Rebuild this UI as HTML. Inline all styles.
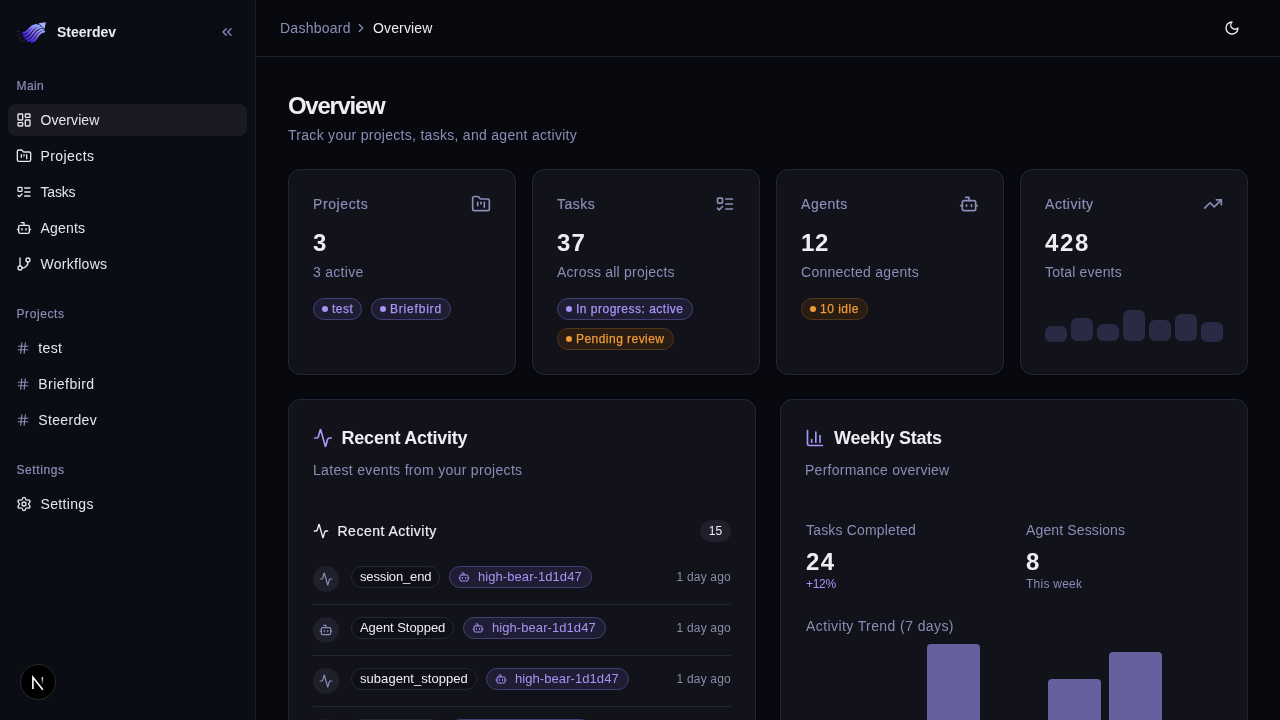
<!DOCTYPE html>
<html><head><meta charset="utf-8"><style>
html,body{margin:0;padding:0;width:1280px;height:720px;overflow:hidden;background:#08090e;font-family:"Liberation Sans",sans-serif;}
.t{position:absolute;white-space:nowrap;}
#root{position:absolute;left:0;top:0;width:1280px;height:720px;will-change:transform;}
</style></head><body><div id="root">
<div style="position:absolute;left:0px;top:0px;width:256px;height:720px;box-sizing:border-box;background:#0b0d15;border-right:1px solid #1d1e2d"></div>
<svg style="position:absolute;left:14px;top:18px" width="36" height="28" viewBox="0 0 36 28">
<defs><linearGradient id="lg" x1="0" y1="1" x2="0.8" y2="0"><stop offset="0" stop-color="#4324e6"/><stop offset="0.55" stop-color="#8566f6"/><stop offset="1" stop-color="#8ea4ff"/></linearGradient></defs>
<g fill="none" stroke="url(#lg)" stroke-width="2.1" stroke-linecap="round"><path d="M8.9 15.2 C15.07 15.70 14.38 7.30 22.6 7.0"/><path d="M10.1 17.9 C16.94 18.40 16.18 7.90 25.3 7.6"/><path d="M11.7 20.6 C18.86 21.10 18.06 9.60 27.6 9.3"/><path d="M14.2 22.6 C20.95 23.10 20.20 11.80 29.2 11.5"/><path d="M17.5 23.6 C23.21 24.10 22.58 13.80 30.2 13.5"/></g>
<path d="M24.5 5.2 L31.8 4.3 L30.6 10.8 Z" fill="#a9b0ff"/>
<g stroke="#5a5890" stroke-width="0.7" opacity="0.45"><path d="M3 13.5h3"/><path d="M2.5 17h4"/><path d="M4 20h4"/><path d="M7 23h4"/></g>
</svg>
<div class="t" style="left:57px;top:23.15px;font-size:14px;line-height:18px;color:#ededf2;font-weight:700;letter-spacing:0px;">Steerdev</div>
<svg style="position:absolute;left:219px;top:24px;" width="16" height="16" viewBox="0 0 24 24" fill="none" stroke="#8b8db6" stroke-width="2" stroke-linecap="round" stroke-linejoin="round"><path d="m11 17-5-5 5-5"/><path d="m18 17-5-5 5-5"/></svg>
<div class="t" style="left:16.5px;top:77.84px;font-size:12px;line-height:16px;color:#8b8db6;font-weight:400;letter-spacing:0.4px;-webkit-text-stroke:0.2px currentColor">Main</div>
<div style="position:absolute;left:8px;top:104px;width:239px;height:32px;box-sizing:border-box;background:#1a1a24;border-radius:8px"></div>
<svg style="position:absolute;left:16px;top:112px;" width="16" height="16" viewBox="0 0 24 24" fill="none" stroke="#e6e6ec" stroke-width="2" stroke-linecap="round" stroke-linejoin="round"><rect width="7" height="9" x="3" y="3" rx="1"/><rect width="7" height="5" x="14" y="3" rx="1"/><rect width="7" height="9" x="14" y="12" rx="1"/><rect width="7" height="5" x="3" y="16" rx="1"/></svg>
<div class="t" style="left:40.5px;top:111.15px;font-size:14px;line-height:18px;color:#e6e6ec;font-weight:400;letter-spacing:0.06px;">Overview</div>
<svg style="position:absolute;left:16px;top:148px;" width="16" height="16" viewBox="0 0 24 24" fill="none" stroke="#e6e6ec" stroke-width="2" stroke-linecap="round" stroke-linejoin="round"><path d="M4 20h16a2 2 0 0 0 2-2V8a2 2 0 0 0-2-2h-7.93a2 2 0 0 1-1.66-.9l-.82-1.2A2 2 0 0 0 7.93 3H4a2 2 0 0 0-2 2v13c0 1.1.9 2 2 2Z"/><path d="M8 10v4"/><path d="M12 10v2"/><path d="M16 10v6"/></svg>
<div class="t" style="left:40.5px;top:147.15px;font-size:14px;line-height:18px;color:#e6e6ec;font-weight:400;letter-spacing:0.43px;">Projects</div>
<svg style="position:absolute;left:16px;top:184px;" width="16" height="16" viewBox="0 0 24 24" fill="none" stroke="#e6e6ec" stroke-width="2" stroke-linecap="round" stroke-linejoin="round"><rect x="3" y="5" width="6" height="6" rx="1"/><path d="m3 17 2 2 4-4"/><path d="M13 6h8"/><path d="M13 12h8"/><path d="M13 18h8"/></svg>
<div class="t" style="left:40.5px;top:183.15px;font-size:14px;line-height:18px;color:#e6e6ec;font-weight:400;letter-spacing:-0.2px;">Tasks</div>
<svg style="position:absolute;left:16px;top:220px;" width="16" height="16" viewBox="0 0 24 24" fill="none" stroke="#e6e6ec" stroke-width="2" stroke-linecap="round" stroke-linejoin="round"><path d="M12 8V4H8"/><rect width="16" height="12" x="4" y="8" rx="2"/><path d="M2 14h2"/><path d="M20 14h2"/><path d="M15 13v2"/><path d="M9 13v2"/></svg>
<div class="t" style="left:40.5px;top:219.15px;font-size:14px;line-height:18px;color:#e6e6ec;font-weight:400;letter-spacing:0.2px;">Agents</div>
<svg style="position:absolute;left:16px;top:256px;" width="16" height="16" viewBox="0 0 24 24" fill="none" stroke="#e6e6ec" stroke-width="2" stroke-linecap="round" stroke-linejoin="round"><line x1="6" x2="6" y1="3" y2="15"/><circle cx="18" cy="6" r="3"/><circle cx="6" cy="18" r="3"/><path d="M18 9a9 9 0 0 1-9 9"/></svg>
<div class="t" style="left:40.5px;top:255.15px;font-size:14px;line-height:18px;color:#e6e6ec;font-weight:400;letter-spacing:0.28px;">Workflows</div>
<div class="t" style="left:16.5px;top:305.84px;font-size:12px;line-height:16px;color:#8b8db6;font-weight:400;letter-spacing:0.6px;-webkit-text-stroke:0.2px currentColor">Projects</div>
<svg style="position:absolute;left:16px;top:341px;" width="14" height="14" viewBox="0 0 24 24" fill="none" stroke="#8b8db6" stroke-width="2" stroke-linecap="round" stroke-linejoin="round"><line x1="4" x2="20" y1="9" y2="9"/><line x1="4" x2="20" y1="15" y2="15"/><line x1="10" x2="8" y1="3" y2="21"/><line x1="16" x2="14" y1="3" y2="21"/></svg>
<div class="t" style="left:38.3px;top:339.15px;font-size:14px;line-height:18px;color:#e6e6ec;font-weight:400;letter-spacing:0.33px;">test</div>
<svg style="position:absolute;left:16px;top:377px;" width="14" height="14" viewBox="0 0 24 24" fill="none" stroke="#8b8db6" stroke-width="2" stroke-linecap="round" stroke-linejoin="round"><line x1="4" x2="20" y1="9" y2="9"/><line x1="4" x2="20" y1="15" y2="15"/><line x1="10" x2="8" y1="3" y2="21"/><line x1="16" x2="14" y1="3" y2="21"/></svg>
<div class="t" style="left:38.3px;top:375.15px;font-size:14px;line-height:18px;color:#e6e6ec;font-weight:400;letter-spacing:0.46px;">Briefbird</div>
<svg style="position:absolute;left:16px;top:413px;" width="14" height="14" viewBox="0 0 24 24" fill="none" stroke="#8b8db6" stroke-width="2" stroke-linecap="round" stroke-linejoin="round"><line x1="4" x2="20" y1="9" y2="9"/><line x1="4" x2="20" y1="15" y2="15"/><line x1="10" x2="8" y1="3" y2="21"/><line x1="16" x2="14" y1="3" y2="21"/></svg>
<div class="t" style="left:38.3px;top:411.15px;font-size:14px;line-height:18px;color:#e6e6ec;font-weight:400;letter-spacing:0.34px;">Steerdev</div>
<div class="t" style="left:16.5px;top:461.64px;font-size:12px;line-height:16px;color:#8b8db6;font-weight:400;letter-spacing:0.58px;-webkit-text-stroke:0.2px currentColor">Settings</div>
<svg style="position:absolute;left:16px;top:496px;" width="16" height="16" viewBox="0 0 24 24" fill="none" stroke="#e6e6ec" stroke-width="2" stroke-linecap="round" stroke-linejoin="round"><path d="M9.671 4.136a2.34 2.34 0 0 1 4.659 0 2.34 2.34 0 0 0 3.319 1.915 2.34 2.34 0 0 1 2.33 4.033 2.34 2.34 0 0 0 0 3.831 2.34 2.34 0 0 1-2.33 4.033 2.34 2.34 0 0 0-3.319 1.915 2.34 2.34 0 0 1-4.659 0 2.34 2.34 0 0 0-3.32-1.915 2.34 2.34 0 0 1-2.33-4.033 2.34 2.34 0 0 0 0-3.831A2.34 2.34 0 0 1 6.35 6.051a2.34 2.34 0 0 0 3.319-1.915"/><circle cx="12" cy="12" r="3"/></svg>
<div class="t" style="left:40.6px;top:495.25px;font-size:14px;line-height:18px;color:#e6e6ec;font-weight:400;letter-spacing:0.32px;">Settings</div>
<div style="position:absolute;left:20px;top:664px;width:36px;height:36px;box-sizing:border-box;background:#000;border:1px solid #2a2a2e;border-radius:50%"></div>
<svg style="position:absolute;left:29px;top:673px" width="18" height="18" viewBox="0 0 18 18"><defs><linearGradient id="ng" gradientUnits="userSpaceOnUse" x1="0" y1="4" x2="0" y2="12"><stop offset="0" stop-color="#fff"/><stop offset="1" stop-color="#fff" stop-opacity="0"/></linearGradient></defs><path d="M3.9 16V4.2l10 12.6" stroke="#fff" stroke-width="1.6" fill="none" stroke-linejoin="miter"/><path d="M13.4 4.2v8" stroke="url(#ng)" stroke-width="1.5"/></svg>
<div style="position:absolute;left:256px;top:56px;width:1024px;height:1px;box-sizing:border-box;background:#1d1e2d"></div>
<div class="t" style="left:280px;top:19.15px;font-size:14px;line-height:18px;color:#8b8db6;font-weight:400;letter-spacing:0.25px;">Dashboard</div>
<svg style="position:absolute;left:354px;top:21px;" width="14" height="14" viewBox="0 0 24 24" fill="none" stroke="#8b8db6" stroke-width="2" stroke-linecap="round" stroke-linejoin="round"><path d="m9 18 6-6-6-6"/></svg>
<div class="t" style="left:373px;top:19.15px;font-size:14px;line-height:18px;color:#ededf2;font-weight:400;letter-spacing:0.14px;">Overview</div>
<svg style="position:absolute;left:1224px;top:20px;" width="16" height="16" viewBox="0 0 24 24" fill="none" stroke="#ededf2" stroke-width="2" stroke-linecap="round" stroke-linejoin="round"><path d="M12 3a6 6 0 0 0 9 9 9 9 0 1 1-9-9Z"/></svg>
<div class="t" style="left:288px;top:90.18px;font-size:24px;line-height:31px;color:#ededf2;font-weight:700;letter-spacing:-1.3px;">Overview</div>
<div class="t" style="left:288px;top:126.15px;font-size:14px;line-height:18px;color:#8b8db6;font-weight:400;letter-spacing:0.29px;">Track your projects, tasks, and agent activity</div>
<div style="position:absolute;left:288px;top:169px;width:228px;height:206px;box-sizing:border-box;background:#11121a;border:1px solid #23243a;border-radius:12px;box-shadow:0 1px 3px rgba(0,0,0,.35)"></div>
<div class="t" style="left:313px;top:195.05px;font-size:14px;line-height:18px;color:#8b8db6;font-weight:400;letter-spacing:0.6px;-webkit-text-stroke:0.2px currentColor">Projects</div>
<svg style="position:absolute;left:471px;top:194px;" width="20" height="20" viewBox="0 0 24 24" fill="none" stroke="#8b8db6" stroke-width="2" stroke-linecap="round" stroke-linejoin="round"><path d="M4 20h16a2 2 0 0 0 2-2V8a2 2 0 0 0-2-2h-7.93a2 2 0 0 1-1.66-.9l-.82-1.2A2 2 0 0 0 7.93 3H4a2 2 0 0 0-2 2v13c0 1.1.9 2 2 2Z"/><path d="M8 10v4"/><path d="M12 10v2"/><path d="M16 10v6"/></svg>
<div class="t" style="left:313px;top:227.18px;font-size:24px;line-height:31px;color:#ededf2;font-weight:700;letter-spacing:1.0px;">3</div>
<div class="t" style="left:313px;top:263.15px;font-size:14px;line-height:18px;color:#8b8db6;font-weight:400;letter-spacing:0.29px;">3 active</div>
<div style="position:absolute;left:532px;top:169px;width:228px;height:206px;box-sizing:border-box;background:#11121a;border:1px solid #23243a;border-radius:12px;box-shadow:0 1px 3px rgba(0,0,0,.35)"></div>
<div class="t" style="left:557px;top:195.05px;font-size:14px;line-height:18px;color:#8b8db6;font-weight:400;letter-spacing:0.5px;-webkit-text-stroke:0.2px currentColor">Tasks</div>
<svg style="position:absolute;left:715px;top:194px;" width="20" height="20" viewBox="0 0 24 24" fill="none" stroke="#8b8db6" stroke-width="2" stroke-linecap="round" stroke-linejoin="round"><rect x="3" y="5" width="6" height="6" rx="1"/><path d="m3 17 2 2 4-4"/><path d="M13 6h8"/><path d="M13 12h8"/><path d="M13 18h8"/></svg>
<div class="t" style="left:557px;top:227.18px;font-size:24px;line-height:31px;color:#ededf2;font-weight:700;letter-spacing:1.2px;">37</div>
<div class="t" style="left:557px;top:263.15px;font-size:14px;line-height:18px;color:#8b8db6;font-weight:400;letter-spacing:0.22px;">Across all projects</div>
<div style="position:absolute;left:776px;top:169px;width:228px;height:206px;box-sizing:border-box;background:#11121a;border:1px solid #23243a;border-radius:12px;box-shadow:0 1px 3px rgba(0,0,0,.35)"></div>
<div class="t" style="left:801px;top:195.05px;font-size:14px;line-height:18px;color:#8b8db6;font-weight:400;letter-spacing:0.54px;-webkit-text-stroke:0.2px currentColor">Agents</div>
<svg style="position:absolute;left:959px;top:194px;" width="20" height="20" viewBox="0 0 24 24" fill="none" stroke="#8b8db6" stroke-width="2" stroke-linecap="round" stroke-linejoin="round"><path d="M12 8V4H8"/><rect width="16" height="12" x="4" y="8" rx="2"/><path d="M2 14h2"/><path d="M20 14h2"/><path d="M15 13v2"/><path d="M9 13v2"/></svg>
<div class="t" style="left:801px;top:227.18px;font-size:24px;line-height:31px;color:#ededf2;font-weight:700;letter-spacing:0.6px;">12</div>
<div class="t" style="left:801px;top:263.15px;font-size:14px;line-height:18px;color:#8b8db6;font-weight:400;letter-spacing:0.27px;">Connected agents</div>
<div style="position:absolute;left:1020px;top:169px;width:228px;height:206px;box-sizing:border-box;background:#11121a;border:1px solid #23243a;border-radius:12px;box-shadow:0 1px 3px rgba(0,0,0,.35)"></div>
<div class="t" style="left:1045px;top:195.05px;font-size:14px;line-height:18px;color:#8b8db6;font-weight:400;letter-spacing:0.54px;-webkit-text-stroke:0.2px currentColor">Activity</div>
<svg style="position:absolute;left:1203px;top:194px;" width="20" height="20" viewBox="0 0 24 24" fill="none" stroke="#8b8db6" stroke-width="2" stroke-linecap="round" stroke-linejoin="round"><polyline points="22 7 13.5 15.5 8.5 10.5 2 17"/><polyline points="16 7 22 7 22 13"/></svg>
<div class="t" style="left:1045px;top:227.18px;font-size:24px;line-height:31px;color:#ededf2;font-weight:700;letter-spacing:1.6px;">428</div>
<div class="t" style="left:1045px;top:263.15px;font-size:14px;line-height:18px;color:#8b8db6;font-weight:400;letter-spacing:0.18px;">Total events</div>
<div style="position:absolute;left:313px;top:298px;height:22px;box-sizing:border-box;border:1px solid #433f72;background:#1f1d33;border-radius:11px;padding:0 8px;display:flex;align-items:center;white-space:nowrap;font-size:12px;line-height:20px;color:#a495f4;letter-spacing:0.53px;-webkit-text-stroke:0.25px #a495f4"><span style="width:6px;height:6px;border-radius:50%;background:#a495f4;margin-right:4px;flex:none"></span>test</div>
<div style="position:absolute;left:371px;top:298px;height:22px;box-sizing:border-box;border:1px solid #433f72;background:#1f1d33;border-radius:11px;padding:0 8px;display:flex;align-items:center;white-space:nowrap;font-size:12px;line-height:20px;color:#a495f4;letter-spacing:0.8px;-webkit-text-stroke:0.25px #a495f4"><span style="width:6px;height:6px;border-radius:50%;background:#a495f4;margin-right:4px;flex:none"></span>Briefbird</div>
<div style="position:absolute;left:557px;top:298px;height:22px;box-sizing:border-box;border:1px solid #433f72;background:#1f1d33;border-radius:11px;padding:0 8px;display:flex;align-items:center;white-space:nowrap;font-size:12px;line-height:20px;color:#a495f4;letter-spacing:0.5px;-webkit-text-stroke:0.25px #a495f4"><span style="width:6px;height:6px;border-radius:50%;background:#a495f4;margin-right:4px;flex:none"></span>In progress: active</div>
<div style="position:absolute;left:557px;top:328px;height:22px;box-sizing:border-box;border:1px solid #51361a;background:#281c13;border-radius:11px;padding:0 8px;display:flex;align-items:center;white-space:nowrap;font-size:12px;line-height:20px;color:#f09b38;letter-spacing:0.46px;-webkit-text-stroke:0.25px #f09b38"><span style="width:6px;height:6px;border-radius:50%;background:#f09b38;margin-right:4px;flex:none"></span>Pending review</div>
<div style="position:absolute;left:801px;top:298px;height:22px;box-sizing:border-box;border:1px solid #51361a;background:#281c13;border-radius:11px;padding:0 8px;display:flex;align-items:center;white-space:nowrap;font-size:12px;line-height:20px;color:#f09b38;letter-spacing:0.5px;-webkit-text-stroke:0.25px #f09b38"><span style="width:6px;height:6px;border-radius:50%;background:#f09b38;margin-right:4px;flex:none"></span>10 idle</div>
<div style="position:absolute;left:1045px;top:326.0px;width:22px;height:15.5px;box-sizing:border-box;background:#2b2a45;border-radius:6px"></div>
<div style="position:absolute;left:1071px;top:317.7px;width:22px;height:23.80000000000001px;box-sizing:border-box;background:#2b2a45;border-radius:6px"></div>
<div style="position:absolute;left:1097px;top:323.8px;width:22px;height:17.69999999999999px;box-sizing:border-box;background:#2b2a45;border-radius:6px"></div>
<div style="position:absolute;left:1123px;top:309.7px;width:22px;height:31.80000000000001px;box-sizing:border-box;background:#2b2a45;border-radius:6px"></div>
<div style="position:absolute;left:1149px;top:319.6px;width:22px;height:21.899999999999977px;box-sizing:border-box;background:#2b2a45;border-radius:6px"></div>
<div style="position:absolute;left:1175px;top:313.7px;width:22px;height:27.80000000000001px;box-sizing:border-box;background:#2b2a45;border-radius:6px"></div>
<div style="position:absolute;left:1201px;top:322.0px;width:22px;height:19.5px;box-sizing:border-box;background:#2b2a45;border-radius:6px"></div>
<div style="position:absolute;left:288px;top:399px;width:468px;height:400px;box-sizing:border-box;background:#11121a;border:1px solid #23243a;border-radius:12px;box-shadow:0 1px 3px rgba(0,0,0,.35)"></div>
<div style="position:absolute;left:780px;top:399px;width:468px;height:400px;box-sizing:border-box;background:#11121a;border:1px solid #23243a;border-radius:12px;box-shadow:0 1px 3px rgba(0,0,0,.35)"></div>
<svg style="position:absolute;left:313px;top:428px;" width="20" height="20" viewBox="0 0 24 24" fill="none" stroke="#a396f6" stroke-width="2" stroke-linecap="round" stroke-linejoin="round"><path d="M22 12h-2.48a2 2 0 0 0-1.93 1.46l-2.35 8.36a.25.25 0 0 1-.48 0L9.24 2.18a.25.25 0 0 0-.48 0l-2.35 8.36A2 2 0 0 1 4.49 12H2"/></svg>
<div class="t" style="left:341.6px;top:427.06px;font-size:18px;line-height:23px;color:#ededf2;font-weight:700;letter-spacing:-0.24px;">Recent Activity</div>
<div class="t" style="left:313px;top:461.15px;font-size:14px;line-height:18px;color:#8b8db6;font-weight:400;letter-spacing:0.32px;">Latest events from your projects</div>
<svg style="position:absolute;left:313px;top:523px;" width="16" height="16" viewBox="0 0 24 24" fill="none" stroke="#ededf2" stroke-width="2" stroke-linecap="round" stroke-linejoin="round"><path d="M22 12h-2.48a2 2 0 0 0-1.93 1.46l-2.35 8.36a.25.25 0 0 1-.48 0L9.24 2.18a.25.25 0 0 0-.48 0l-2.35 8.36A2 2 0 0 1 4.49 12H2"/></svg>
<div class="t" style="left:337.5px;top:522.15px;font-size:14px;line-height:18px;color:#ededf2;font-weight:400;letter-spacing:0.5px;-webkit-text-stroke:0.2px currentColor">Recent Activity</div>
<div style="position:absolute;left:700px;top:520px;width:31px;height:22px;border-radius:11px;background:#1f202c;color:#ededf2;font-size:12px;line-height:22px;text-align:center">15</div>
<div style="position:absolute;left:313px;top:566px;width:26px;height:26px;box-sizing:border-box;background:#1f202c;border-radius:50%"></div>
<svg style="position:absolute;left:319px;top:572px;" width="14" height="14" viewBox="0 0 24 24" fill="none" stroke="#8b8db6" stroke-width="2" stroke-linecap="round" stroke-linejoin="round"><path d="M22 12h-2.48a2 2 0 0 0-1.93 1.46l-2.35 8.36a.25.25 0 0 1-.48 0L9.24 2.18a.25.25 0 0 0-.48 0l-2.35 8.36A2 2 0 0 1 4.49 12H2"/></svg>
<div style="position:absolute;left:351px;top:566px;height:22px;box-sizing:border-box;border:1px solid #25263a;background:#0f1017;border-radius:11px;padding:0 8px;white-space:nowrap;font-size:13px;line-height:20px;color:#ededf2;letter-spacing:-0.15px">session_end</div>
<div style="position:absolute;left:449px;top:566px;height:22px;box-sizing:border-box;border:1px solid #433f72;background:#1f1d33;border-radius:11px;padding:0 9px 0 8px;white-space:nowrap;font-size:13px;line-height:20px;color:#a495f4;letter-spacing:0.07px;display:flex;align-items:center"><svg width="12" height="12" viewBox="0 0 24 24" fill="none" stroke="#a495f4" stroke-width="2" stroke-linecap="round" stroke-linejoin="round" style="margin-right:8px;flex:none"><path d="M12 8V4H8"/><rect width="16" height="12" x="4" y="8" rx="2"/><path d="M2 14h2"/><path d="M20 14h2"/><path d="M15 13v2"/><path d="M9 13v2"/></svg>high-bear-1d1d47</div>
<div class="t" style="right:549px;top:569.34px;font-size:12px;line-height:16px;color:#8a8ba6;font-weight:400;letter-spacing:0.2px;">1 day ago</div>
<div style="position:absolute;left:313px;top:604px;width:418px;height:1px;box-sizing:border-box;background:#25263a"></div>
<div style="position:absolute;left:313px;top:617px;width:26px;height:26px;box-sizing:border-box;background:#1f202c;border-radius:50%"></div>
<svg style="position:absolute;left:319px;top:623px;" width="14" height="14" viewBox="0 0 24 24" fill="none" stroke="#8b8db6" stroke-width="2" stroke-linecap="round" stroke-linejoin="round"><path d="M12 8V4H8"/><rect width="16" height="12" x="4" y="8" rx="2"/><path d="M2 14h2"/><path d="M20 14h2"/><path d="M15 13v2"/><path d="M9 13v2"/></svg>
<div style="position:absolute;left:351px;top:617px;height:22px;box-sizing:border-box;border:1px solid #25263a;background:#0f1017;border-radius:11px;padding:0 8px;white-space:nowrap;font-size:13px;line-height:20px;color:#ededf2;letter-spacing:-0.06px">Agent Stopped</div>
<div style="position:absolute;left:463px;top:617px;height:22px;box-sizing:border-box;border:1px solid #433f72;background:#1f1d33;border-radius:11px;padding:0 9px 0 8px;white-space:nowrap;font-size:13px;line-height:20px;color:#a495f4;letter-spacing:0.07px;display:flex;align-items:center"><svg width="12" height="12" viewBox="0 0 24 24" fill="none" stroke="#a495f4" stroke-width="2" stroke-linecap="round" stroke-linejoin="round" style="margin-right:8px;flex:none"><path d="M12 8V4H8"/><rect width="16" height="12" x="4" y="8" rx="2"/><path d="M2 14h2"/><path d="M20 14h2"/><path d="M15 13v2"/><path d="M9 13v2"/></svg>high-bear-1d1d47</div>
<div class="t" style="right:549px;top:620.34px;font-size:12px;line-height:16px;color:#8a8ba6;font-weight:400;letter-spacing:0.2px;">1 day ago</div>
<div style="position:absolute;left:313px;top:655px;width:418px;height:1px;box-sizing:border-box;background:#25263a"></div>
<div style="position:absolute;left:313px;top:668px;width:26px;height:26px;box-sizing:border-box;background:#1f202c;border-radius:50%"></div>
<svg style="position:absolute;left:319px;top:674px;" width="14" height="14" viewBox="0 0 24 24" fill="none" stroke="#8b8db6" stroke-width="2" stroke-linecap="round" stroke-linejoin="round"><path d="M22 12h-2.48a2 2 0 0 0-1.93 1.46l-2.35 8.36a.25.25 0 0 1-.48 0L9.24 2.18a.25.25 0 0 0-.48 0l-2.35 8.36A2 2 0 0 1 4.49 12H2"/></svg>
<div style="position:absolute;left:351px;top:668px;height:22px;box-sizing:border-box;border:1px solid #25263a;background:#0f1017;border-radius:11px;padding:0 8px;white-space:nowrap;font-size:13px;line-height:20px;color:#ededf2;letter-spacing:0.05px">subagent_stopped</div>
<div style="position:absolute;left:486px;top:668px;height:22px;box-sizing:border-box;border:1px solid #433f72;background:#1f1d33;border-radius:11px;padding:0 9px 0 8px;white-space:nowrap;font-size:13px;line-height:20px;color:#a495f4;letter-spacing:0.07px;display:flex;align-items:center"><svg width="12" height="12" viewBox="0 0 24 24" fill="none" stroke="#a495f4" stroke-width="2" stroke-linecap="round" stroke-linejoin="round" style="margin-right:8px;flex:none"><path d="M12 8V4H8"/><rect width="16" height="12" x="4" y="8" rx="2"/><path d="M2 14h2"/><path d="M20 14h2"/><path d="M15 13v2"/><path d="M9 13v2"/></svg>high-bear-1d1d47</div>
<div class="t" style="right:549px;top:671.34px;font-size:12px;line-height:16px;color:#8a8ba6;font-weight:400;letter-spacing:0.2px;">1 day ago</div>
<div style="position:absolute;left:313px;top:706px;width:418px;height:1px;box-sizing:border-box;background:#25263a"></div>
<div style="position:absolute;left:313px;top:719px;width:26px;height:26px;box-sizing:border-box;background:#1f202c;border-radius:50%"></div>
<svg style="position:absolute;left:319px;top:725px;" width="14" height="14" viewBox="0 0 24 24" fill="none" stroke="#8b8db6" stroke-width="2" stroke-linecap="round" stroke-linejoin="round"><path d="M22 12h-2.48a2 2 0 0 0-1.93 1.46l-2.35 8.36a.25.25 0 0 1-.48 0L9.24 2.18a.25.25 0 0 0-.48 0l-2.35 8.36A2 2 0 0 1 4.49 12H2"/></svg>
<div style="position:absolute;left:351px;top:719px;height:22px;box-sizing:border-box;border:1px solid #25263a;background:#0f1017;border-radius:11px;padding:0 8px;white-space:nowrap;font-size:13px;line-height:20px;color:#ededf2;letter-spacing:-0.15px">session_end</div>
<div style="position:absolute;left:449px;top:719px;height:22px;box-sizing:border-box;border:1px solid #433f72;background:#1f1d33;border-radius:11px;padding:0 9px 0 8px;white-space:nowrap;font-size:13px;line-height:20px;color:#a495f4;letter-spacing:0.07px;display:flex;align-items:center"><svg width="12" height="12" viewBox="0 0 24 24" fill="none" stroke="#a495f4" stroke-width="2" stroke-linecap="round" stroke-linejoin="round" style="margin-right:8px;flex:none"><path d="M12 8V4H8"/><rect width="16" height="12" x="4" y="8" rx="2"/><path d="M2 14h2"/><path d="M20 14h2"/><path d="M15 13v2"/><path d="M9 13v2"/></svg>high-bear-1d1d47</div>
<div class="t" style="right:549px;top:722.34px;font-size:12px;line-height:16px;color:#8a8ba6;font-weight:400;letter-spacing:0.2px;">1 day ago</div>
<svg style="position:absolute;left:805px;top:428px;" width="20" height="20" viewBox="0 0 24 24" fill="none" stroke="#a396f6" stroke-width="2" stroke-linecap="round" stroke-linejoin="round"><path d="M3 3v16a2 2 0 0 0 2 2h16"/><path d="M18 17V9"/><path d="M13 17V5"/><path d="M8 17v-3"/></svg>
<div class="t" style="left:834px;top:427.06px;font-size:18px;line-height:23px;color:#ededf2;font-weight:700;letter-spacing:-0.24px;">Weekly Stats</div>
<div class="t" style="left:805px;top:461.15px;font-size:14px;line-height:18px;color:#8b8db6;font-weight:400;letter-spacing:0.26px;">Performance overview</div>
<div class="t" style="left:806px;top:520.75px;font-size:14px;line-height:18px;color:#8b8db6;font-weight:400;letter-spacing:0.17px;">Tasks Completed</div>
<div class="t" style="left:1026px;top:520.75px;font-size:14px;line-height:18px;color:#8b8db6;font-weight:400;letter-spacing:0.13px;">Agent Sessions</div>
<div class="t" style="left:806px;top:545.58px;font-size:24px;line-height:31px;color:#ededf2;font-weight:700;letter-spacing:1.5px;">24</div>
<div class="t" style="left:1026px;top:545.58px;font-size:24px;line-height:31px;color:#ededf2;font-weight:700;letter-spacing:0px;">8</div>
<div class="t" style="left:806px;top:575.84px;font-size:12px;line-height:16px;color:#a396f6;font-weight:400;letter-spacing:-0.3px;">+12%</div>
<div class="t" style="left:1026px;top:575.84px;font-size:12px;line-height:16px;color:#8b8db6;font-weight:400;letter-spacing:0.25px;">This week</div>
<div class="t" style="left:806px;top:617.15px;font-size:14px;line-height:18px;color:#8b8db6;font-weight:400;letter-spacing:0.41px;">Activity Trend (7 days)</div>
<div style="position:absolute;left:926.7142857142857px;top:644.4px;width:52.857142857142854px;height:85.60000000000002px;box-sizing:border-box;background:#67609f;border-radius:4px 4px 0 0"></div>
<div style="position:absolute;left:1048.4285714285713px;top:679px;width:52.857142857142854px;height:51px;box-sizing:border-box;background:#67609f;border-radius:4px 4px 0 0"></div>
<div style="position:absolute;left:1109.2857142857142px;top:652px;width:52.857142857142854px;height:78px;box-sizing:border-box;background:#67609f;border-radius:4px 4px 0 0"></div>
</div></body></html>
